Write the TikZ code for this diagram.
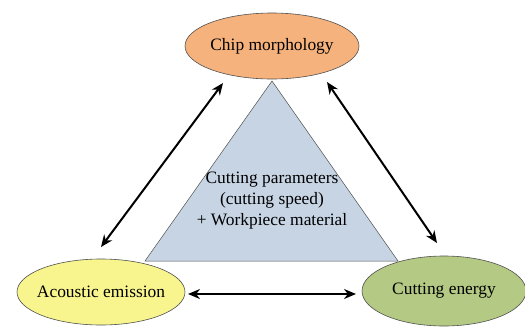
\documentclass[tikz,border=0pt]{standalone}
\usepackage{fontspec}
\setmainfont{Liberation Serif}
\usetikzlibrary{arrows.meta,shapes.geometric}
\definecolor{chipfill}{HTML}{F6B27C}
\definecolor{aefill}{HTML}{F8F58F}
\definecolor{cefill}{HTML}{B4CA84}
\definecolor{trifill}{HTML}{C6D4E4}
\definecolor{edgegray}{HTML}{505050}
% zero-width label so the ellipse keeps its given size
\newcommand{\flatlabel}[1]{\makebox[0pt]{#1}}
\tikzset{
  bubble/.style={ellipse, draw=edgegray, line width=0.6pt, inner sep=0pt,
    font=\fontsize{17.4}{20}\selectfont},
  link/.style={line width=2pt, {Stealth[length=12pt,width=10pt]}-{Stealth[length=12pt,width=10pt]}}
}
\begin{document}
\begin{tikzpicture}[x=1pt,y=-1pt]
\useasboundingbox (0,0) rectangle (525,327);
% central triangle
\draw[draw=edgegray, fill=trifill, line width=0.5pt] (272,81) -- (398,261) -- (145,261) -- cycle;
\node[font=\fontsize{17.4}{21}\selectfont, align=center] (params) at (272,201)
  {Cutting parameters\\(cutting speed)\\+ Workpiece material};
% the three measured quantities
\node[bubble, fill=chipfill, minimum width=174pt, minimum height=66pt] (chip) at (272,46) {\flatlabel{Chip morphology}};
\node[bubble, fill=aefill, minimum width=168pt, minimum height=66pt] (ae) at (101,292) {\flatlabel{Acoustic emission}};
\node[bubble, fill=cefill, minimum width=164pt, minimum height=70pt] (ce) at (444,291) {\flatlabel{Cutting energy}};
% arrow end points
\coordinate (aeTop) at (101,247);
\coordinate (chipLeft) at (223,83);
\coordinate (chipRight) at (327,82);
\coordinate (ceTop) at (437,243);
\coordinate (aeRight) at (188,294);
\coordinate (ceLeft) at (356,294);
\draw[link] (aeTop) -- (chipLeft);
\draw[link] (chipRight) -- (ceTop);
\draw[link] (aeRight) -- (ceLeft);
\end{tikzpicture}
\end{document}
